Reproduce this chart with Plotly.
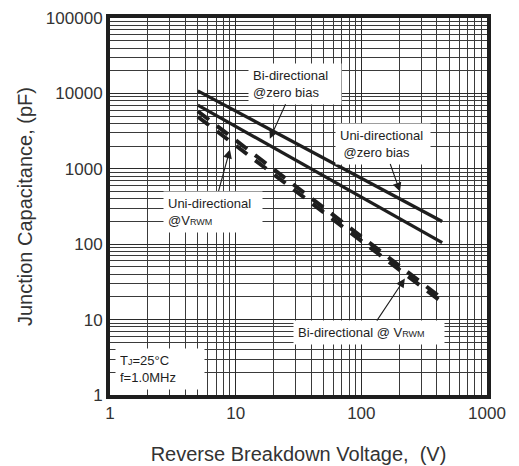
import numpy as np
import plotly.graph_objects as go

# ---- data ----
voltage = [5, 440]
uni_zero_bias = [10800, 200]
bi_zero_bias = [7000, 105]
uni_vrwm = [5800, 19]
bi_vrwm = [4900, 17]

x_tickvals = [1, 10, 100, 1000]
x_ticktext = ["1", "10", "100", "1000"]
y_tickvals = [1, 10, 100, 1000, 10000, 100000]
y_ticktext = ["1", "10", "100", "1000", "10000", "100000"]

# annotation arrow tips (data coordinates)
tip_bi_zero = (18.7, 2500)
tip_uni_zero = (203, 500)
tip_uni_vrwm = (9.0, 1800)
tip_bi_vrwm = (222, 35)

INK = "#1e1e1e"
FONT = "Liberation Sans, Arial, sans-serif"

fig = go.Figure()
fig.add_trace(go.Scatter(x=voltage, y=uni_zero_bias, mode="lines",
                         line=dict(color=INK, width=3.3), name="Uni-directional @zero bias"))
fig.add_trace(go.Scatter(x=voltage, y=bi_zero_bias, mode="lines",
                         line=dict(color=INK, width=3.3), name="Bi-directional @zero bias"))
fig.add_trace(go.Scatter(x=voltage, y=uni_vrwm, mode="lines",
                         line=dict(color=INK, width=4, dash="14px,10px"), name="Uni-directional @VRWM"))
fig.add_trace(go.Scatter(x=voltage, y=bi_vrwm, mode="lines",
                         line=dict(color=INK, width=4, dash="14px,10px"), name="Bi-directional @VRWM"))

small = "<span style='font-size:9px'>%s</span>"

def arrow_ann(tip, text, ax, ay, width):
    return dict(x=np.log10(tip[0]), y=np.log10(tip[1]), xref="x", yref="y",
                text=text, showarrow=True, ax=ax, ay=ay,
                arrowhead=2, arrowsize=1.6, arrowwidth=1.1, arrowcolor=INK,
                bgcolor="white", borderpad=4, align="left", width=width,
                font=dict(family=FONT, size=13, color=INK))

annotations = [
    arrow_ann(tip_bi_zero, "Bi-directional<br>@zero bias", 25, -55, 84),
    arrow_ann(tip_uni_zero, "Uni-directional<br> @zero bias", -17, -48, 86),
    arrow_ann(tip_uni_vrwm, "Uni-directional<br>@V" + small % "RWM", -17, 62, 90),
    arrow_ann(tip_bi_vrwm, "Bi-directional @ V" + small % "RWM", -36, 54, 142),
    dict(x=0.012, y=0.07, xref="paper", yref="paper", xanchor="left", yanchor="middle",
         text="T" + small % "J" + "=25°C<br>f=1.0MHz", showarrow=False,
         bgcolor="white", borderpad=4, align="left", width=80,
         font=dict(family=FONT, size=13, color=INK)),
]

axis_common = dict(
    type="log", showgrid=True, gridcolor="#2a2a2a", gridwidth=1.3,
    showline=True, linecolor=INK, linewidth=4, mirror=True,
    ticks="", zeroline=False, automargin=False,
    tickfont=dict(family=FONT, size=17, color="#333333"),
    minor=dict(dtick="D1", showgrid=True, gridcolor="#3a3a3a", gridwidth=1, ticks=""),
)

# page body adds an 8px offset, so the figure is sized to fit the window
fig.update_layout(
    width=511, height=458,
    margin=dict(l=102, r=32, t=10, b=71, autoexpand=False),
    paper_bgcolor="white", plot_bgcolor="white",
    showlegend=False,
    annotations=annotations,
    xaxis=dict(axis_common, range=[0, 3], tickvals=x_tickvals, ticktext=x_ticktext,
               title=dict(text="Reverse Breakdown Voltage,  (V)", standoff=26,
                          font=dict(family=FONT, size=20, color="#333333"))),
    yaxis=dict(axis_common, range=[0, 5], tickvals=y_tickvals, ticktext=y_ticktext,
               title=dict(text="Junction Capacitance, (pF)", standoff=9,
                          font=dict(family=FONT, size=20, color="#333333"))),
)

fig.write_html("out.html")
